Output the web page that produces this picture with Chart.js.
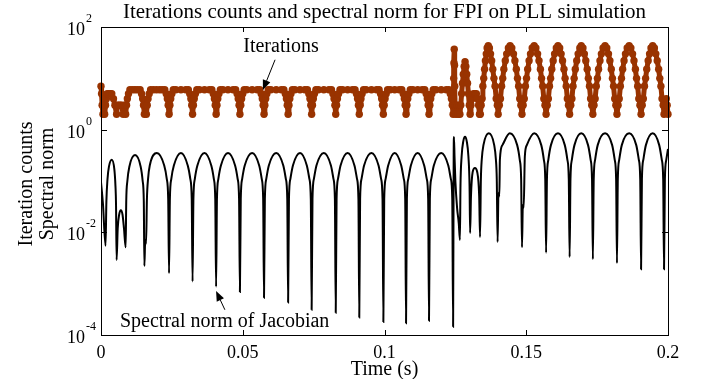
<!DOCTYPE html>
<html>
<head>
<meta charset="utf-8">
<script src="https://cdn.jsdelivr.net/npm/chart.js@4.4.0/dist/chart.umd.min.js"></script>
<style>
html, body { margin: 0; padding: 0; background: #fff; }
#wrap { width: 702px; height: 379px; }
</style>
</head>
<body>
<div id="wrap"><canvas id="myChart" width="702" height="379"></canvas></div>
<script>
// spectral norm of the Jacobian (time in s)
const normTime = [
    0, 0.0007, 0.0016, 0.0019, 0.0023, 0.0028, 0.0038, 0.0047, 0.0051, 0.0053, 0.0055,
    0.0059, 0.0064, 0.0070, 0.0076, 0.0081, 0.0087,
    0.0089, 0.0093, 0.0100, 0.0120, 0.0140, 0.0147, 0.0151, 0.0153, 0.0156, 0.0159,
    0.0162, 0.0166, 0.0172, 0.0197, 0.0223, 0.0232, 0.0237, 0.0240,
    0.0243, 0.0248, 0.0257, 0.0282, 0.0306, 0.0315, 0.0320, 0.0323,
    0.0326, 0.0331, 0.0340, 0.0365, 0.0389, 0.0398, 0.0403, 0.0406,
    0.0409, 0.0414, 0.0423, 0.0448, 0.0473, 0.0482, 0.0487, 0.0490,
    0.0493, 0.0498, 0.0507, 0.0533, 0.0558, 0.0567, 0.0572, 0.0575,
    0.0578, 0.0583, 0.0592, 0.0618, 0.0643, 0.0652, 0.0657, 0.0660,
    0.0663, 0.0668, 0.0677, 0.0702, 0.0726, 0.0735, 0.0740, 0.0743,
    0.0746, 0.0751, 0.0760, 0.0786, 0.0811, 0.0820, 0.0825, 0.0828,
    0.0831, 0.0836, 0.0845, 0.0870, 0.0894, 0.0903, 0.0908, 0.0911,
    0.0914, 0.0919, 0.0928, 0.0954, 0.0979, 0.0988, 0.0993, 0.0996,
    0.0999, 0.1004, 0.1013, 0.1036, 0.1059, 0.1068, 0.1073, 0.1076,
    0.1079, 0.1084, 0.1093, 0.1117, 0.1140, 0.1149, 0.1154, 0.1157,
    0.1160, 0.1165, 0.1174, 0.1200, 0.1225, 0.1234, 0.1239, 0.1242,
    0.1244, 0.1245, 0.1247, 0.1250, 0.1256, 0.1262, 0.1266,
    0.1268, 0.1272, 0.1278, 0.1284, 0.1290, 0.1296, 0.1300, 0.1302,
    0.1305, 0.1311, 0.1319, 0.1327, 0.1334, 0.1337,
    0.1340, 0.1343, 0.1349, 0.1368, 0.1387, 0.1393, 0.1396, 0.1399, 0.1402, 0.1405,
    0.1407, 0.1416, 0.1442, 0.1468, 0.1477, 0.1482, 0.1485, 0.1488, 0.1491,
    0.1495, 0.1502, 0.1528, 0.1553, 0.1562, 0.1567, 0.1570,
    0.1573, 0.1578, 0.1587, 0.1612, 0.1636, 0.1645, 0.1650, 0.1653,
    0.1656, 0.1661, 0.1670, 0.1694, 0.1718, 0.1727, 0.1732, 0.1735,
    0.1738, 0.1743, 0.1752, 0.1778, 0.1803, 0.1812, 0.1817, 0.1820,
    0.1823, 0.1828, 0.1837, 0.1863, 0.1888, 0.1897, 0.1902, 0.1905,
    0.1908, 0.1913, 0.1922, 0.1946, 0.1969, 0.1978, 0.1983, 0.1986,
    0.1989, 0.1994, 0.2000
]
const normValue = [
    0.095, 0.035, 0.0055, 0.04, 0.11, 0.19, 0.26, 0.17, 0.08, 0.035, 0.0029,
    0.012, 0.022, 0.027, 0.022, 0.012, 0.0051,
    0.04, 0.1, 0.19, 0.32, 0.19, 0.1, 0.04, 0.0022, 0.007, 0.006,
    0.045, 0.11, 0.2, 0.35, 0.2, 0.11, 0.045, 0.0016,
    0.045, 0.11, 0.2, 0.35, 0.2, 0.11, 0.045, 0.0011,
    0.045, 0.11, 0.2, 0.35, 0.2, 0.11, 0.045, 0.00087,
    0.045, 0.11, 0.2, 0.35, 0.2, 0.11, 0.045, 0.00069,
    0.045, 0.11, 0.2, 0.35, 0.2, 0.11, 0.045, 0.00053,
    0.045, 0.11, 0.2, 0.35, 0.2, 0.11, 0.045, 0.00043,
    0.045, 0.11, 0.2, 0.35, 0.2, 0.11, 0.045, 0.00031,
    0.045, 0.11, 0.2, 0.35, 0.2, 0.11, 0.045, 0.00027,
    0.045, 0.11, 0.2, 0.35, 0.2, 0.11, 0.045, 0.00022,
    0.045, 0.11, 0.2, 0.35, 0.2, 0.11, 0.045, 0.00018,
    0.045, 0.11, 0.2, 0.35, 0.2, 0.11, 0.045, 0.00017,
    0.045, 0.11, 0.2, 0.35, 0.2, 0.11, 0.045, 0.00019,
    0.045, 0.11, 0.2, 0.35, 0.2, 0.11, 0.045, 0.000145,
    0.3, 0.72, 0.3, 0.1, 0.03, 0.015, 0.0071,
    0.08, 0.3, 0.6, 0.73, 0.6, 0.3, 0.08, 0.0097,
    0.05, 0.15, 0.18, 0.15, 0.05, 0.0081,
    0.11, 0.26, 0.5, 0.85, 0.5, 0.26, 0.11, 0.0065, 0.06, 0.05,
    0.26, 0.5, 0.85, 0.5, 0.26, 0.11, 0.0051, 0.034, 0.03,
    0.3, 0.5, 0.85, 0.5, 0.26, 0.11, 0.0040,
    0.11, 0.26, 0.5, 0.85, 0.5, 0.26, 0.11, 0.0033,
    0.11, 0.26, 0.5, 0.85, 0.5, 0.26, 0.11, 0.0030,
    0.11, 0.26, 0.5, 0.85, 0.5, 0.26, 0.11, 0.0025,
    0.11, 0.26, 0.5, 0.85, 0.5, 0.26, 0.11, 0.0019,
    0.11, 0.26, 0.5, 0.85, 0.5, 0.26, 0.11, 0.0019,
    0.11, 0.26, 0.42
]

// FPI iteration counts per step
const iterTime = [
    0, 0.0002, 0.0004, 0.0007, 0.0010, 0.0013, 0.0016, 0.0019, 0.0022, 0.0027, 0.0033, 0.0038, 0.0044, 0.0049,
    0.0055, 0.0058, 0.0063, 0.0068, 0.0073, 0.0078, 0.0082,
    0.0087, 0.0090, 0.0093, 0.0097, 0.0102, 0.0111, 0.0120, 0.0129, 0.0138, 0.0143, 0.0147, 0.0150,
    0.0153, 0.0157, 0.0160, 0.0163, 0.0166, 0.0170, 0.0175, 0.0185, 0.0196, 0.0207, 0.0216, 0.0225, 0.0230, 0.0234, 0.0237,
    0.0240, 0.0243, 0.0246, 0.0250, 0.0255, 0.0264, 0.0282, 0.0299, 0.0308, 0.0313, 0.0317, 0.0320,
    0.0323, 0.0326, 0.0329, 0.0333, 0.0338, 0.0347, 0.0365, 0.0382, 0.0391, 0.0396, 0.0400, 0.0403,
    0.0406, 0.0409, 0.0412, 0.0416, 0.0421, 0.0430, 0.0448, 0.0466, 0.0475, 0.0480, 0.0484, 0.0487,
    0.0490, 0.0493, 0.0496, 0.0500, 0.0505, 0.0514, 0.0533, 0.0551, 0.0560, 0.0565, 0.0569, 0.0572,
    0.0575, 0.0578, 0.0581, 0.0585, 0.0590, 0.0599, 0.0618, 0.0636, 0.0645, 0.0650, 0.0654, 0.0657,
    0.0660, 0.0663, 0.0666, 0.0670, 0.0675, 0.0684, 0.0702, 0.0719, 0.0728, 0.0733, 0.0737, 0.0740,
    0.0743, 0.0746, 0.0749, 0.0753, 0.0758, 0.0767, 0.0786, 0.0804, 0.0813, 0.0818, 0.0822, 0.0825,
    0.0828, 0.0831, 0.0834, 0.0838, 0.0843, 0.0852, 0.0870, 0.0887, 0.0896, 0.0901, 0.0905, 0.0908,
    0.0911, 0.0914, 0.0917, 0.0921, 0.0926, 0.0935, 0.0954, 0.0972, 0.0981, 0.0986, 0.0990, 0.0993,
    0.0996, 0.0999, 0.1002, 0.1006, 0.1011, 0.1020, 0.1036, 0.1052, 0.1061, 0.1066, 0.1070, 0.1073,
    0.1076, 0.1079, 0.1082, 0.1086, 0.1091, 0.1100, 0.1117, 0.1133, 0.1142, 0.1147, 0.1151, 0.1154,
    0.1157, 0.1160, 0.1163, 0.1167, 0.1172, 0.1181, 0.1200, 0.1218, 0.1227, 0.1232, 0.1236, 0.1239,
    0.1242, 0.1243, 0.1244, 0.1245, 0.1246, 0.1247, 0.1248, 0.1249, 0.1252, 0.1256, 0.1260, 0.1263,
    0.1266, 0.1269, 0.1272, 0.1275, 0.1278, 0.1281, 0.1284, 0.1287, 0.1290, 0.1293, 0.1296, 0.1299,
    0.1302, 0.1305, 0.1309, 0.1314, 0.1319, 0.1324, 0.1328, 0.1332, 0.1335,
    0.1338, 0.1341, 0.1344, 0.1347, 0.1350, 0.1353, 0.1356, 0.1359, 0.1362, 0.1366, 0.1370, 0.1374, 0.1378, 0.1382, 0.1386, 0.1390, 0.1394, 0.1398,
    0.1401, 0.1405, 0.1409, 0.1413, 0.1417, 0.1421, 0.1426, 0.1431, 0.1437, 0.1443, 0.1449, 0.1455, 0.1460, 0.1465, 0.1469, 0.1473, 0.1477, 0.1481,
    0.1485, 0.1489, 0.1493, 0.1497, 0.1501, 0.1505, 0.1510, 0.1515, 0.1521, 0.1528, 0.1534, 0.1540, 0.1545, 0.1550, 0.1554, 0.1558, 0.1562, 0.1566,
    0.1570, 0.1574, 0.1578, 0.1582, 0.1586, 0.1590, 0.1595, 0.1600, 0.1606, 0.1612, 0.1618, 0.1623, 0.1628, 0.1633, 0.1637, 0.1641, 0.1645, 0.1649,
    0.1653, 0.1657, 0.1661, 0.1665, 0.1669, 0.1673, 0.1678, 0.1683, 0.1689, 0.1694, 0.1700, 0.1705, 0.1710, 0.1715, 0.1719, 0.1723, 0.1727, 0.1731,
    0.1735, 0.1739, 0.1743, 0.1747, 0.1751, 0.1755, 0.1760, 0.1765, 0.1771, 0.1778, 0.1784, 0.1790, 0.1795, 0.1800, 0.1804, 0.1808, 0.1812, 0.1816,
    0.1820, 0.1824, 0.1828, 0.1832, 0.1836, 0.1840, 0.1845, 0.1850, 0.1856, 0.1863, 0.1869, 0.1875, 0.1880, 0.1885, 0.1889, 0.1893, 0.1897, 0.1901,
    0.1905, 0.1909, 0.1913, 0.1917, 0.1921, 0.1925, 0.1930, 0.1935, 0.1940, 0.1946, 0.1952, 0.1957, 0.1962, 0.1967, 0.1971, 0.1975, 0.1979, 0.1983,
    0.1986, 0.1990, 0.1994, 0.1997, 0.2000
]
const iterCount = [
    7, 5, 3, 2, 3, 2, 3, 4, 5, 5, 5, 5, 4, 3,
    2, 3, 3, 3, 3, 2, 3,
    2, 3, 4, 5, 6, 6, 6, 6, 6, 5, 4, 3,
    2, 3, 2, 3, 4, 5, 6, 6, 6, 6, 6, 6, 5, 4, 3,
    2, 3, 4, 5, 6, 6, 6, 6, 6, 5, 4, 3,
    2, 3, 4, 5, 6, 6, 6, 6, 6, 5, 4, 3,
    2, 3, 4, 5, 6, 6, 6, 6, 6, 5, 4, 3,
    2, 3, 4, 5, 6, 6, 6, 6, 6, 5, 4, 3,
    2, 3, 4, 5, 6, 6, 6, 6, 6, 5, 4, 3,
    2, 3, 4, 5, 6, 6, 6, 6, 6, 5, 4, 3,
    2, 3, 4, 5, 6, 6, 6, 6, 6, 5, 4, 3,
    2, 3, 4, 5, 6, 6, 6, 6, 6, 5, 4, 3,
    2, 3, 4, 5, 6, 6, 6, 6, 6, 5, 4, 3,
    2, 3, 4, 5, 6, 6, 6, 6, 6, 5, 4, 3,
    2, 3, 4, 5, 6, 6, 6, 6, 6, 5, 4, 3,
    2, 3, 4, 5, 6, 6, 6, 6, 6, 5, 4, 3,
    2, 4, 10, 20, 37, 18, 7, 3, 2, 3, 2, 3,
    2, 3, 5, 8, 12, 17, 21, 17, 12, 8, 5, 3,
    2, 3, 4, 5, 5, 5, 4, 3, 2,
    2, 3, 4, 7, 10, 15, 22, 30, 39, 43, 39, 30, 22, 15, 10, 7, 4, 3,
    2, 3, 4, 7, 10, 15, 22, 30, 39, 43, 39, 30, 22, 15, 10, 7, 4, 3,
    2, 3, 4, 7, 10, 15, 22, 30, 39, 43, 39, 30, 22, 15, 10, 7, 4, 3,
    2, 3, 4, 7, 10, 15, 22, 30, 39, 43, 39, 30, 22, 15, 10, 7, 4, 3,
    2, 3, 4, 7, 10, 15, 22, 30, 39, 43, 39, 30, 22, 15, 10, 7, 4, 3,
    2, 3, 4, 7, 10, 15, 22, 30, 39, 43, 39, 30, 22, 15, 10, 7, 4, 3,
    2, 3, 4, 7, 10, 15, 22, 30, 39, 43, 39, 30, 22, 15, 10, 7, 4, 3,
    2, 3, 4, 7, 10, 15, 22, 30, 39, 43, 39, 30, 22, 15, 10, 7, 4, 3,
    2, 3, 4, 3, 2
]

const xTicks = [0, 0.05, 0.1, 0.15, 0.2]
const xTickLabels = ['0', '0.05', '0.1', '0.15', '0.2']
const yTicks = [1e-4, 1e-2, 1, 100]
const yTickExp = ['-4', '-2', '0', '2']

const serif = '"Liberation Serif", "Times New Roman", serif'
const brown = '#993300'

const toPoints = (xs, ys) => xs.map((x, i) => ({ x: x, y: ys[i] }))

const drawArrow = (ctx, x0, y0, x1, y1) => {
    const ang = Math.atan2(y1 - y0, x1 - x0)
    const len = 10, half = 4
    ctx.beginPath()
    ctx.moveTo(x0, y0)
    ctx.lineTo(x1 - Math.cos(ang) * len, y1 - Math.sin(ang) * len)
    ctx.stroke()
    ctx.beginPath()
    ctx.moveTo(x1, y1)
    ctx.lineTo(x1 - Math.cos(ang) * len - Math.sin(ang) * half, y1 - Math.sin(ang) * len + Math.cos(ang) * half)
    ctx.lineTo(x1 - Math.cos(ang) * len + Math.sin(ang) * half, y1 - Math.sin(ang) * len - Math.cos(ang) * half)
    ctx.closePath()
    ctx.fill()
}

const frame = {
    id: 'frame',
    afterDatasetsDraw(chart) {
        const { ctx, chartArea: a, scales: { x, y } } = chart
        ctx.save()
        ctx.strokeStyle = '#000'
        ctx.fillStyle = '#000'
        ctx.lineWidth = 1
        ctx.strokeRect(a.left + 0.5, a.top + 0.5, a.right - a.left, a.bottom - a.top)

        ctx.beginPath()
        xTicks.forEach(v => {
            const px = Math.round(x.getPixelForValue(v)) + 0.5
            ctx.moveTo(px, a.bottom); ctx.lineTo(px, a.bottom - 5)
            ctx.moveTo(px, a.top); ctx.lineTo(px, a.top + 5)
        })
        yTicks.forEach(v => {
            const py = Math.round(y.getPixelForValue(v)) + 0.5
            ctx.moveTo(a.left, py); ctx.lineTo(a.left + 6, py)
            ctx.moveTo(a.right, py); ctx.lineTo(a.right - 6, py)
        })
        ctx.stroke()

        ctx.font = '18px ' + serif
        ctx.textAlign = 'center'
        ctx.textBaseline = 'alphabetic'
        xTicks.forEach((v, i) => {
            ctx.fillText(xTickLabels[i], x.getPixelForValue(v), a.bottom + 23)
        })
        yTicks.forEach((v, i) => {
            const py = y.getPixelForValue(v)
            ctx.font = '18px ' + serif
            ctx.textAlign = 'right'
            ctx.fillText('10', a.left - 16, py + 8)
            ctx.font = '12px ' + serif
            ctx.textAlign = 'left'
            ctx.fillText(yTickExp[i], a.left - 15, py - 5)
        })

        ctx.font = '21px ' + serif
        ctx.textAlign = 'center'
        ctx.fillText('Iterations counts and spectral norm for FPI on PLL simulation', (a.left + a.right) / 2, 18)
        ctx.font = '20px ' + serif
        ctx.fillText('Time (s)', (a.left + a.right) / 2, 375)

        ctx.save()
        ctx.translate(27, 184)
        ctx.rotate(-Math.PI / 2)
        ctx.textBaseline = 'middle'
        ctx.fillText('Iteration counts', 0, 0)
        ctx.fillText('Spectral norm', 0, 21)
        ctx.restore()

        ctx.textBaseline = 'middle'
        ctx.fillText('Iterations', x.getPixelForValue(0.0635), y.getPixelForValue(41))
        drawArrow(ctx, x.getPixelForValue(0.0614), y.getPixelForValue(23), x.getPixelForValue(0.0571), y.getPixelForValue(5.9))

        ctx.textAlign = 'left'
        ctx.fillText('Spectral norm of Jacobian', x.getPixelForValue(0.0067), y.getPixelForValue(0.000179))
        drawArrow(ctx, x.getPixelForValue(0.0437), y.getPixelForValue(0.00031), x.getPixelForValue(0.0406), y.getPixelForValue(0.00072))
        ctx.restore()
    }
}

new Chart('myChart', {
    type: 'line',
    data: {
        datasets: [{
            label: 'Spectral norm',
            data: toPoints(normTime, normValue),
            borderColor: '#000',
            borderWidth: 2,
            pointRadius: 0,
            cubicInterpolationMode: 'monotone'
        }, {
            label: 'Iterations',
            data: toPoints(iterTime, iterCount),
            borderColor: brown,
            backgroundColor: brown,
            borderWidth: 5,
            borderJoinStyle: 'round',
            pointRadius: 3.7,
            pointBorderWidth: 0,
            pointBackgroundColor: brown,
            clip: false
        }]
    },
    options: {
        responsive: false,
        animation: false,
        devicePixelRatio: 1,
        layout: { padding: { left: 101, top: 27, right: 34, bottom: 44 } },
        scales: {
            x: { type: 'linear', min: 0, max: 0.2, display: false },
            y: { type: 'logarithmic', min: 1e-4, max: 100, display: false }
        },
        plugins: { legend: { display: false }, tooltip: { enabled: false } }
    },
    plugins: [frame]
})
</script>
</body>
</html>
